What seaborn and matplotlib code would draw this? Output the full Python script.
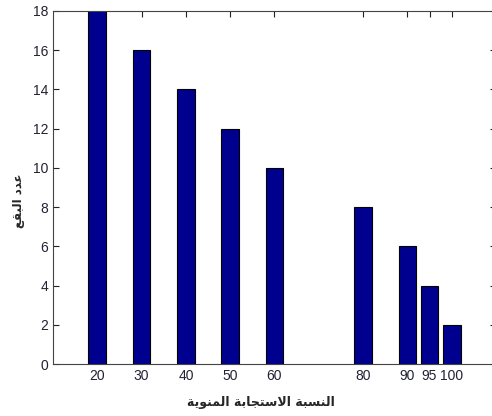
import matplotlib
matplotlib.use("Agg")
import matplotlib.pyplot as plt
import seaborn as sns
import pandas as pd

# Response percentage and count values for each bar
percent = [20, 30, 40, 50, 60, 80, 90, 95, 100]
counts = [18, 16, 14, 12, 10, 8, 6, 4, 2]
y_ticks = [0, 2, 4, 6, 8, 10, 12, 14, 16, 18]

# Arabic labels written in presentation forms (visual order) so they render joined
x_label = ("\uFE94\uFEF3\uFEEE\uFEE8\uFEE4\uFEDF\uFE8D "
           "\uFE94\uFE91\uFE8E\uFEA0\uFE98\uFEB3\uFEFB\uFE8D "
           "\uFE94\uFE92\uFEB4\uFEE8\uFEDF\uFE8D")
y_label = ("\uFECA\uFED8\uFE92\uFEDF\uFE8D "
           "\uFEA9\uFEAA\uFECB")

df = pd.DataFrame({"percent": percent, "count": counts})

sns.set_style("white")
plt.rcParams["font.family"] = ["Liberation Sans", "DejaVu Sans"]

fig = plt.figure(figsize=(4.92, 4.16), dpi=100)
ax = fig.add_axes([53 / 492, 1 - 364 / 416, (496 - 53) / 492, (364 - 11) / 416])

sns.barplot(data=df, x="percent", y="count", native_scale=True, width=0.8,
            color="#00008F", saturation=1, edgecolor="black", linewidth=0.8, ax=ax)

ax.set_xlim(10, 110)
ax.set_ylim(0, 18)
ax.set_xticks(percent)
ax.set_xticklabels([str(p) for p in percent])
ax.set_yticks(y_ticks)
ax.tick_params(direction="in", length=4, width=0.8, labelsize=10,
               top=True, right=True, bottom=True, left=True, colors="#222222",
               labelcolor="#222233")
for s in ax.spines.values():
    s.set_color("#444444")
    s.set_linewidth(0.8)
    s.set_visible(True)

ax.set_xlabel(x_label, family=["DejaVu Sans"], fontweight="bold", fontsize=9)
ax.set_ylabel(y_label, family=["DejaVu Sans"], fontweight="bold", fontsize=8.5)
ax.xaxis.set_label_coords(0.47, -0.09)
ax.yaxis.set_label_coords(-0.063, 0.462)

fig.savefig("out.png", dpi=100)
